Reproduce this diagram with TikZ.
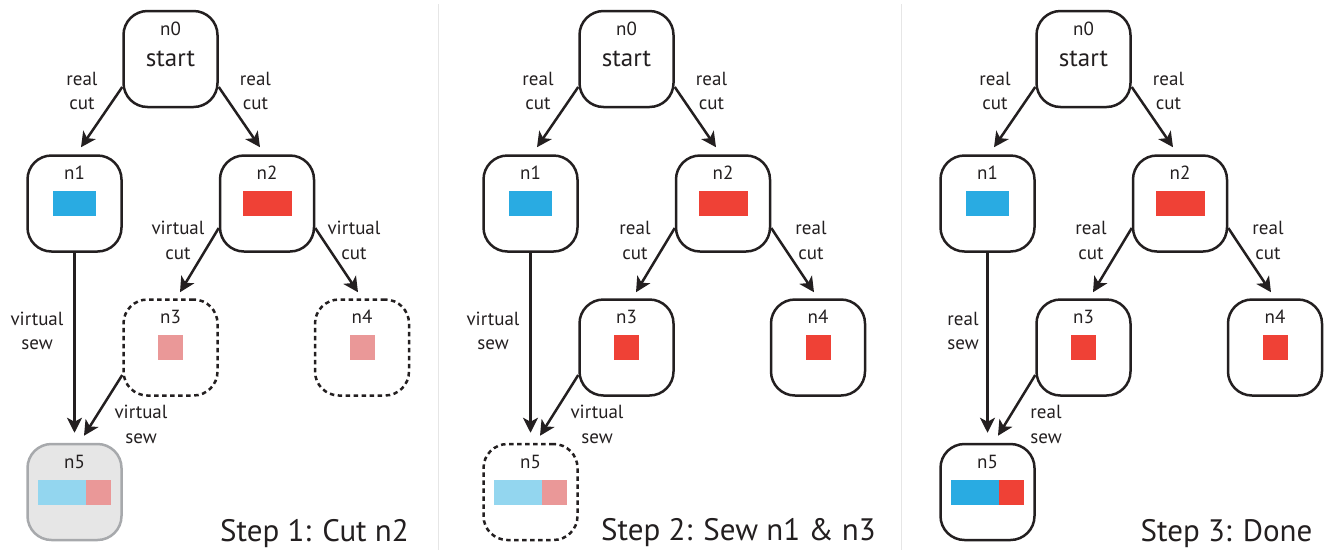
\documentclass[tikz,border=0pt]{standalone}
\usepackage{fontspec}
\setmainfont{PT Sans}
\usetikzlibrary{arrows.meta}

\definecolor{ink}{HTML}{231F20}
\definecolor{cutblue}{HTML}{29ABE2}
\definecolor{cutred}{HTML}{EF4136}
\definecolor{paleblue}{HTML}{93D6EF}
\definecolor{palered}{HTML}{EA9898}
\definecolor{boxgray}{HTML}{E6E6E6}
\definecolor{edgegray}{HTML}{A7A9AC}
\definecolor{rulegray}{HTML}{E6E6E6}

\tikzset{
  box/.style={draw=ink, line width=2.5pt, rounded corners=24pt,
    minimum width=94pt, minimum height=96pt, inner sep=0pt},
  ghost/.style={box, dash pattern=on 4.5pt off 3.5pt},
  merged/.style={box, draw=edgegray, fill=boxgray},
  flow/.style={draw=ink, line width=2.5pt,
    -{Stealth[length=15pt,width=15pt,inset=4pt]}},
  tag/.style={text=ink, inner sep=0pt, font=\fontsize{19}{24}\selectfont},
  big/.style={text=ink, inner sep=0pt, font=\fontsize{25}{30}\selectfont},
  lbl/.style={text=ink, align=center, inner sep=0pt,
    font=\fontsize{19}{24.5}\selectfont},
  caption/.style={text=ink, inner sep=0pt, anchor=base,
    font=\fontsize{31}{36}\selectfont},
}

% filled bar inside a node: colour, left offset, right offset, node
\newcommand{\swatch}[4]{%
  \fill[#1] ([xshift=#2,yshift=-12.5pt]#4.center) rectangle
            ([xshift=#3,yshift=12.5pt]#4.center);}

\begin{document}
\begin{tikzpicture}[x=1pt,y=-1pt]
\useasboundingbox (0,0) rectangle (1328,550);

% panel separators
\draw[rulegray, line width=1.5pt] (438.5,4) coordinate (s1a) -- (438.5,550) coordinate (s1b);
\draw[rulegray, line width=1.5pt] (901.5,4) coordinate (s2a) -- (901.5,550) coordinate (s2b);

% ---------------- Step 1 ----------------
\begin{scope}
  \node[box] (a0) at (170.5,59) {};
  \node[big] (a0s) at (a0.center) {start};
  \node[tag] (a0t) at ([yshift=30pt]a0.center) {n0};

  \node[box] (a1) at (74.5,203.5) {};
  \node[tag] (a1t) at ([yshift=30.5pt]a1.center) {n1};
  \swatch{cutblue}{-21.5pt}{21.5pt}{a1}

  \node[box] (a2) at (267,203.5) {};
  \node[tag] (a2t) at ([yshift=30.5pt]a2.center) {n2};
  \swatch{cutred}{-24.5pt}{24.5pt}{a2}

  \node[ghost] (a3) at (170.5,347.5) {};
  \node[tag] (a3t) at ([yshift=30.5pt]a3.center) {n3};
  \swatch{palered}{-12.5pt}{12.5pt}{a3}

  \node[ghost] (a4) at (362,347.5) {};
  \node[tag] (a4t) at ([yshift=30.5pt]a4.center) {n4};
  \swatch{palered}{-12.5pt}{12.5pt}{a4}

  \node[merged] (a5) at (74.5,492) {};
  \node[tag] (a5t) at ([yshift=30.5pt]a5.center) {n5};
  \swatch{paleblue}{-36.5pt}{11.5pt}{a5}
  \swatch{palered}{11.5pt}{36.5pt}{a5}

  \draw[flow] ([yshift=-28pt]a0.west) -- ([xshift=6.5pt,yshift=7pt]a1.north);
  \draw[flow] ([yshift=-28pt]a0.east) -- ([xshift=-7pt,yshift=7pt]a2.north);
  \draw[flow] ([yshift=-24.5pt]a2.west) -- ([xshift=9.5pt,yshift=6pt]a3.north);
  \draw[flow] ([yshift=-24.5pt]a2.east) -- ([xshift=-4pt,yshift=6pt]a4.north);
  \draw[flow] (a1.south) -- ([yshift=10pt]a5.north);
  \draw[flow] ([yshift=-27.5pt]a3.west) -- ([xshift=9.5pt,yshift=7pt]a5.north);

  \node[lbl] (al1) at (82,91) {real\\cut};
  \node[lbl] (al2) at (255.5,91) {real\\cut};
  \node[lbl] (al3) at (178,240.5) {virtual\\cut};
  \node[lbl] (al4) at (354,240.5) {virtual\\cut};
  \node[lbl] (al5) at (37,331) {virtual\\sew};
  \node[lbl] (al6) at (141,424.5) {virtual\\sew};

  \node[caption] (acap) at (314.5,541) {Step 1: Cut n2};
\end{scope}

% ---------------- Step 2 ----------------
\begin{scope}[xshift=456pt]
  \node[box] (b0) at (170.5,59) {};
  \node[big] (b0s) at (b0.center) {start};
  \node[tag] (b0t) at ([yshift=30pt]b0.center) {n0};

  \node[box] (b1) at (74.5,203.5) {};
  \node[tag] (b1t) at ([yshift=30.5pt]b1.center) {n1};
  \swatch{cutblue}{-21.5pt}{21.5pt}{b1}

  \node[box] (b2) at (267,203.5) {};
  \node[tag] (b2t) at ([yshift=30.5pt]b2.center) {n2};
  \swatch{cutred}{-24.5pt}{24.5pt}{b2}

  \node[box] (b3) at (170.5,347.5) {};
  \node[tag] (b3t) at ([yshift=30.5pt]b3.center) {n3};
  \swatch{cutred}{-12.5pt}{12.5pt}{b3}

  \node[box] (b4) at (362,347.5) {};
  \node[tag] (b4t) at ([yshift=30.5pt]b4.center) {n4};
  \swatch{cutred}{-12.5pt}{12.5pt}{b4}

  \node[ghost] (b5) at (74.5,492) {};
  \node[tag] (b5t) at ([yshift=30.5pt]b5.center) {n5};
  \swatch{paleblue}{-36.5pt}{11.5pt}{b5}
  \swatch{palered}{11.5pt}{36.5pt}{b5}

  \draw[flow] ([yshift=-28pt]b0.west) -- ([xshift=6.5pt,yshift=7pt]b1.north);
  \draw[flow] ([yshift=-28pt]b0.east) -- ([xshift=-7pt,yshift=7pt]b2.north);
  \draw[flow] ([yshift=-24.5pt]b2.west) -- ([xshift=9.5pt,yshift=6pt]b3.north);
  \draw[flow] ([yshift=-24.5pt]b2.east) -- ([xshift=-4pt,yshift=6pt]b4.north);
  \draw[flow] (b1.south) -- ([yshift=10pt]b5.north);
  \draw[flow] ([yshift=-27.5pt]b3.west) -- ([xshift=9.5pt,yshift=7pt]b5.north);

  \node[lbl] (bl1) at (82,91) {real\\cut};
  \node[lbl] (bl2) at (255.5,91) {real\\cut};
  \node[lbl] (bl3) at (179,240.5) {real\\cut};
  \node[lbl] (bl4) at (355,240.5) {real\\cut};
  \node[lbl] (bl5) at (37,331) {virtual\\sew};
  \node[lbl] (bl6) at (141,424.5) {virtual\\sew};

  \node[caption] (bcap) at (282.5,540) {Step 2: Sew n1 \& n3};
\end{scope}

% ---------------- Step 3 ----------------
\begin{scope}[xshift=913pt]
  \node[box] (c0) at (170.5,59) {};
  \node[big] (c0s) at (c0.center) {start};
  \node[tag] (c0t) at ([yshift=30pt]c0.center) {n0};

  \node[box] (c1) at (74.5,203.5) {};
  \node[tag] (c1t) at ([yshift=30.5pt]c1.center) {n1};
  \swatch{cutblue}{-21.5pt}{21.5pt}{c1}

  \node[box] (c2) at (267,203.5) {};
  \node[tag] (c2t) at ([yshift=30.5pt]c2.center) {n2};
  \swatch{cutred}{-24.5pt}{24.5pt}{c2}

  \node[box] (c3) at (170.5,347.5) {};
  \node[tag] (c3t) at ([yshift=30.5pt]c3.center) {n3};
  \swatch{cutred}{-12.5pt}{12.5pt}{c3}

  \node[box] (c4) at (362,347.5) {};
  \node[tag] (c4t) at ([yshift=30.5pt]c4.center) {n4};
  \swatch{cutred}{-12.5pt}{12.5pt}{c4}

  \node[box] (c5) at (74.5,492) {};
  \node[tag] (c5t) at ([yshift=30.5pt]c5.center) {n5};
  \swatch{cutblue}{-36.5pt}{11.5pt}{c5}
  \swatch{cutred}{11.5pt}{36.5pt}{c5}

  \draw[flow] ([yshift=-28pt]c0.west) -- ([xshift=6.5pt,yshift=7pt]c1.north);
  \draw[flow] ([yshift=-28pt]c0.east) -- ([xshift=-7pt,yshift=7pt]c2.north);
  \draw[flow] ([yshift=-24.5pt]c2.west) -- ([xshift=9.5pt,yshift=6pt]c3.north);
  \draw[flow] ([yshift=-24.5pt]c2.east) -- ([xshift=-4pt,yshift=6pt]c4.north);
  \draw[flow] (c1.south) -- ([yshift=10pt]c5.north);
  \draw[flow] ([yshift=-27.5pt]c3.west) -- ([xshift=10.5pt,yshift=7pt]c5.north);

  \node[lbl] (cl1) at (82,91) {real\\cut};
  \node[lbl] (cl2) at (255.5,91) {real\\cut};
  \node[lbl] (cl3) at (178,240.5) {real\\cut};
  \node[lbl] (cl4) at (355,240.5) {real\\cut};
  \node[lbl] (cl5) at (50,331) {real\\sew};
  \node[lbl] (cl6) at (133,424.5) {real\\sew};

  \node[caption] (ccap) at (313.5,541) {Step 3: Done};
\end{scope}
\end{tikzpicture}
\end{document}
